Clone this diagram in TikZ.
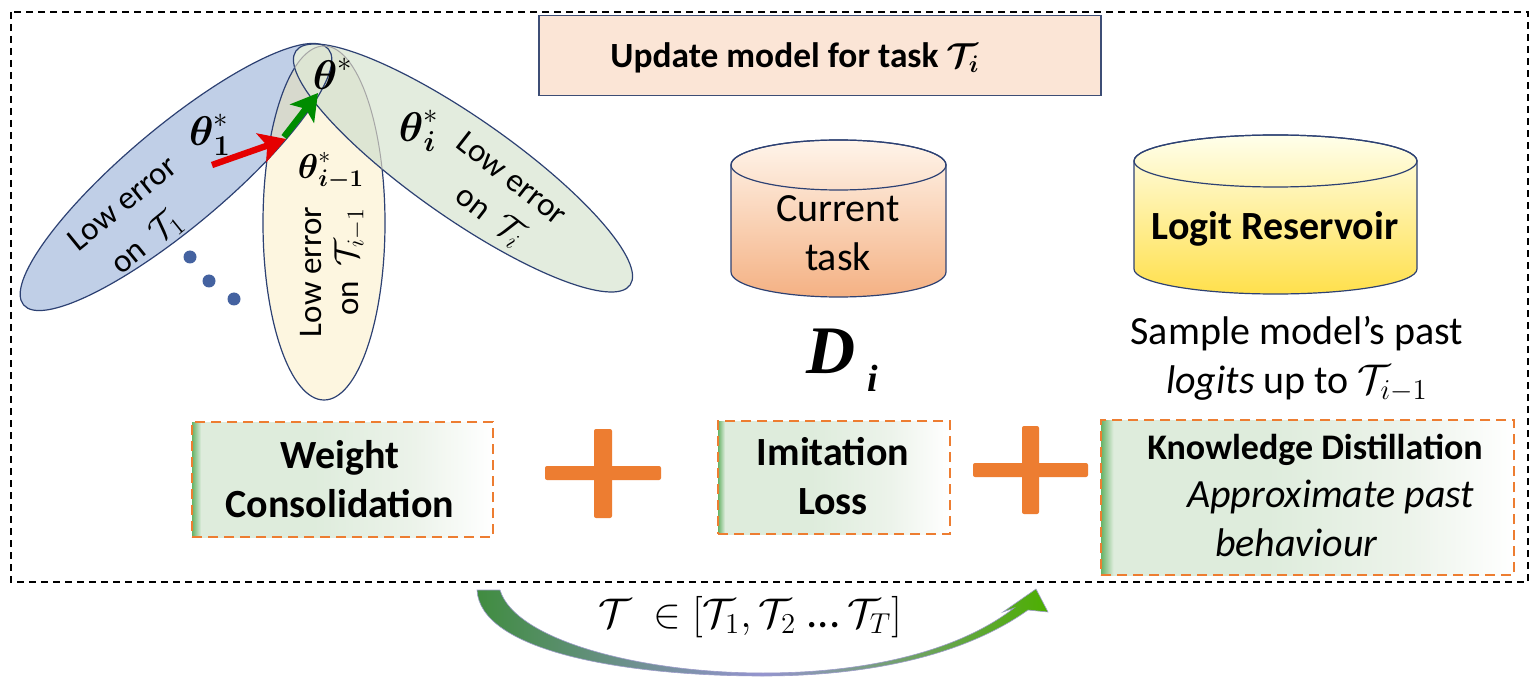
\documentclass[tikz,border=0pt]{standalone}
\usepackage{amsmath}
\usepackage{fontspec}
\setmainfont{Carlito}
\newfontfamily\dfont{Liberation Serif}
\usetikzlibrary{arrows.meta}
\newcommand{\fs}[1]{\fontsize{#1}{#1}\selectfont}
\definecolor{plusc}{RGB}{237,125,49}
\definecolor{ovb}{RGB}{192,207,231}
\definecolor{ovy}{RGB}{253,246,224}
\definecolor{ovg}{RGB}{227,236,222}
\definecolor{ovby}{RGB}{215,217,205}
\definecolor{ovgy}{RGB}{221,229,211}
\definecolor{ovline}{RGB}{45,65,115}
\definecolor{dotc}{RGB}{68,98,160}
\definecolor{titlef}{RGB}{251,229,214}
\definecolor{pale}{RGB}{222,236,220}
\definecolor{pale2}{RGB}{236,243,234}
\pgfdeclarehorizontalshading{boxshade}{100bp}{color(0bp)=(green!50!black!60!white); color(25bp)=(green!50!black!60!white); color(26.5bp)=(pale); color(45bp)=(pale); color(62bp)=(pale2); color(75bp)=(white); color(100bp)=(white)}
\tikzset{
  x=0.5pt,y=-0.5pt,
  lbl/.style={inner sep=0pt,outer sep=0pt,align=center,text=black},
  dashbox/.style={draw=plusc,line width=1.1pt,dash pattern=on 5pt off 3pt,shading=boxshade},
  oval/.style={draw=ovline,line width=0.6pt},
  plusbar/.style={fill=plusc,draw=none,rounded corners=1pt},
  arrowred/.style={draw=red!90!black,line width=3.2pt,-{Stealth[length=13pt,width=15pt,inset=3pt]}},
  arrowgreen/.style={draw=green!55!black,line width=3.2pt,-{Stealth[length=13pt,width=15pt,inset=3pt]}},
  cyl/.style={draw=ovline,line width=0.6pt},
}
\begin{document}
\begin{tikzpicture}
\useasboundingbox (0,0) rectangle (1537,684);
\fill[white] (0,0) rectangle (1537,684);
% ovals
\def\ovB{(176,177) ellipse [x radius=199,y radius=50,rotate=40]}
\def\ovG{(463,168) ellipse [x radius=204,y radius=50,rotate=-35]}
\def\ovY{(324,223) ellipse [x radius=61,y radius=177]}
\fill[ovb] \ovB;
\fill[ovg] \ovG;
\fill[ovy] \ovY;
\begin{scope}
\clip \ovB;
\fill[ovby] \ovY;
\end{scope}
\begin{scope}
\clip \ovG;
\fill[ovgy] \ovY;
\end{scope}
\draw[oval] \ovB;
\draw[oval] \ovG;
\begin{scope}[even odd rule]
\clip (0,0) rectangle (1537,684) \ovG;
\draw[oval] \ovY;
\end{scope}
\begin{scope}
\clip \ovG;
\draw[gray!70,line width=.5pt] \ovY;
\end{scope}
% oval labels
\node[lbl,rotate=39] (le1) at (122,203) {\fs{16.5}Low error};
\node[lbl,rotate=39] (on1) at (147,243) {\fs{16.5}on\ \ $\mathcal{T}_1$};
\node[lbl,rotate=90] (le2) at (311,272) {\fs{16.5}Low error};
\node[lbl,rotate=90] (on2) at (350,262) {\fs{16.5}on\ \ $\mathcal{T}_{i-1}$};
\node[lbl,rotate=-38] (le3) at (512,178) {\fs{16.5}Low error};
\node[lbl,rotate=-38] (on3) at (490,216) {\fs{16.5}on\ \ $\mathcal{T}_i$};
\node[lbl] (t0) at (333,74) {\fs{20}$\boldsymbol{\theta}^{*}$};
\node[lbl] (t1) at (210,135) {\fs{20}$\boldsymbol{\theta}_{\boldsymbol{1}}^{*}$};
\node[lbl] (t2) at (331,171) {\fs{18.5}$\boldsymbol{\theta}_{\boldsymbol{i-1}}^{*}$};
\node[lbl] (t3) at (419,131) {\fs{20}$\boldsymbol{\theta}_{\boldsymbol{i}}^{*}$};
% arrows
\coordinate (ra) at (212,165);
\coordinate (rb) at (286,139);
\coordinate (ga) at (284,137);
\coordinate (gb) at (318,93);
\draw[arrowgreen] (ga) -- (gb);
\draw[arrowred] (ra) -- (rb);
% dots
\foreach \p in {(190,257),(209,281),(234,299)}
  \fill[dotc] \p circle (6.5);
% title box
\node[draw=ovline!80!gray,line width=0.7pt,fill=titlef,minimum width=281pt,minimum height=40pt,inner sep=0pt] (title) at (820,55.5) {};
\node[lbl] (titlet) at (795,58) {\fs{17.7}\bfseries Update model for task $\boldsymbol{\mathcal{T}_i}$};
% outer dashed
\draw[line width=0.7pt,dash pattern=on 3.5pt off 2.5pt] (11,12) rectangle (1528,582);
% cylinders
\path[cyl,top color=orange!8!white,bottom color=plusc!60!white] (731,165) -- (731,272) arc[x radius=107.5,y radius=25,start angle=180,end angle=0] -- (946,165) arc[x radius=107.5,y radius=25,start angle=360,end angle=180] -- cycle;
\draw[cyl] (838.5,165) ellipse [x radius=107.5,y radius=25];
\node[lbl] (cur) at (838,238) {\fs{20}\strut Current\\[3.5pt]\fs{20}\strut task};
\path[cyl,top color=yellow!8!white,bottom color=yellow!65!orange!70] (1134,161) -- (1134,269) arc[x radius=141.5,y radius=25,start angle=180,end angle=0] -- (1417,161) arc[x radius=141.5,y radius=26,start angle=360,end angle=180] -- cycle;
\draw[cyl] (1275.5,161) ellipse [x radius=141.5,y radius=26];
\node[lbl] (logit) at (1275,229) {\fs{20}\bfseries Logit Reservoir};
\node[lbl] (d) at (842,360) {\fs{34}\dfont\bfseries\itshape D\hspace{6pt}\raisebox{-9pt}{\fs{19}i}};
\node[lbl] (samp) at (1297,361) {\fs{20}\strut Sample model’s past\\[3.5pt]\fs{20}\strut\itshape logits \upshape up to $\mathcal{T}_{i-1}$};
% boxes
\node[dashbox,minimum width=150.5pt,minimum height=57.5pt,inner sep=0pt] (wc) at (342.5,479.5) {};
\node[lbl] (wct) at (340,485) {\fs{20}\strut\bfseries Weight\\[3.5pt]\fs{20}\strut\bfseries Consolidation};
\node[dashbox,minimum width=116pt,minimum height=56.5pt,inner sep=0pt] (il) at (834,477.5) {};
\node[lbl] (ilt) at (833,482) {\fs{20}\strut\bfseries Imitation\\[3.5pt]\fs{20}\strut\bfseries Loss};
\node[dashbox,minimum width=206.5pt,minimum height=77.5pt,inner sep=0pt] (kd) at (1307.5,497.5) {};
\node[lbl] (kdt) at (1315,450) {\fs{18}\bfseries Knowledge Distillation};
\node[lbl,anchor=west] (kd1) at (1187,497) {\fs{20}\itshape Approximate past};
\node[lbl,anchor=west] (kd2) at (1215,543) {\fs{20}\itshape behaviour};
% plus
\fill[plusbar] (545,466) rectangle (661,480);
\fill[plusbar] (594,429) rectangle (612,518);
\fill[plusbar] (973,463) rectangle (1088,477);
\fill[plusbar] (1022,426) rectangle (1039,514);
% sweep arrow
\shade[left color=green!40!black!75,right color=green!55!black!70!yellow,middle color=blue!40!gray!60,draw=blue!30!gray!60,line width=.3pt]
 (477,590) -- (500,590) .. controls (515,640) and (640,673) .. (763,673)
 .. controls (870,673) and (960,650) .. (1014,608) -- (1003,612) -- (1036,589) -- (1048,612) -- (1028,610)
 .. controls (965,655) and (870,676) .. (763,676) .. controls (620,676) and (480,650) .. (477,590) -- cycle;
\node[lbl] (rng) at (750,617) {\fs{22.5}$\mathcal{T}\ \in[\mathcal{T}_1,\mathcal{T}_2\ \text{...}\,\mathcal{T}_T]$};
\end{tikzpicture}
\end{document}
